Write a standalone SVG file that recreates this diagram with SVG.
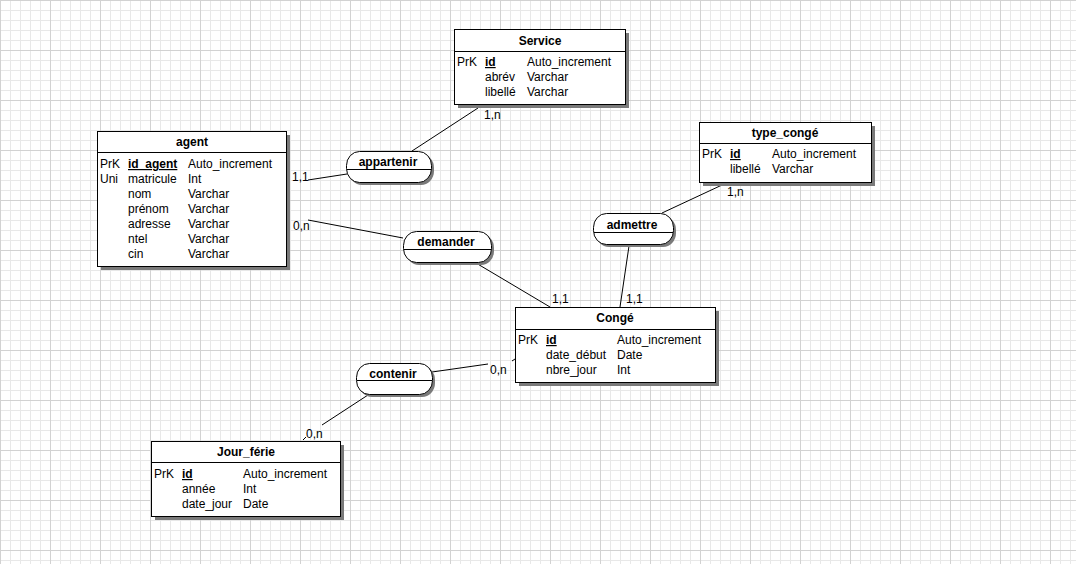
<svg xmlns="http://www.w3.org/2000/svg" width="1076" height="564" viewBox="0 0 1076 564">
<style>
text{font-family:"Liberation Sans",Arial,sans-serif;font-size:12px;fill:#000}
.t{font-weight:bold;text-anchor:middle}
.k{font-weight:bold;text-decoration:underline}
.box{fill:#fff;stroke:#000;stroke-width:1}
.sh{fill:#7a7a7a}
.sep{stroke:#000;stroke-width:1}
.c line{stroke:#000;stroke-width:1}
</style>
<defs>
<pattern id="g10" width="10" height="10" patternUnits="userSpaceOnUse">
<path d="M0.5 0V10M0 0.5H10" stroke="#e8e8e8" stroke-width="1" fill="none"/>
</pattern>
<pattern id="g50" width="50" height="50" patternUnits="userSpaceOnUse">
<rect width="50" height="50" fill="url(#g10)"/>
<path d="M0.5 0V50M0 0.5H50" stroke="#d2d2d2" stroke-width="1" fill="none"/>
</pattern>
</defs>
<rect width="1076" height="564" fill="#fff"/>
<rect width="1076" height="564" fill="url(#g50)"/>

<g id="connectors" class="c">
<line x1="478" y1="108" x2="412" y2="151"/>
<line x1="347" y1="174" x2="308" y2="180"/>
<line x1="288" y1="183" x2="290" y2="182"/>
<line x1="308" y1="220" x2="403" y2="238"/>
<line x1="288" y1="217" x2="290" y2="215"/>
<line x1="476" y1="263" x2="550" y2="307"/>
<line x1="662" y1="213" x2="722" y2="185"/>
<line x1="629" y1="246" x2="620" y2="307"/>
<line x1="432" y1="372" x2="488" y2="364"/>
<line x1="512" y1="361" x2="515" y2="359"/>
<line x1="368" y1="395" x2="322" y2="425"/>
<line x1="303" y1="440" x2="306" y2="437"/>
<text x="484" y="119">1,n</text>
<text x="292" y="181">1,1</text>
<text x="293" y="230">0,n</text>
<text x="552" y="303">1,1</text>
<text x="626" y="303">1,1</text>
<text x="727" y="196">1,n</text>
<text x="490" y="374">0,n</text>
<text x="306" y="438">0,n</text>
</g>

<g id="Service">
<rect class="sh" x="458" y="33" width="171" height="75"/>
<rect class="box" x="454.5" y="29.5" width="171" height="75"/>
<line class="sep" x1="454.5" y1="51.5" x2="625.5" y2="51.5"/>
<text class="t" x="540" y="45">Service</text>
<text x="457" y="66">PrK</text><text class="k" x="485" y="66">id</text><text x="527" y="66">Auto_increment</text>
<text x="485" y="81">abrév</text><text x="527" y="81">Varchar</text>
<text x="485" y="96">libellé</text><text x="527" y="96">Varchar</text>
</g>

<g id="agent">
<rect class="sh" x="101" y="135" width="189" height="135"/>
<rect class="box" x="97.5" y="131.5" width="189" height="135"/>
<line class="sep" x1="97.5" y1="152.5" x2="286.5" y2="152.5"/>
<text class="t" x="192" y="146">agent</text>
<text x="100" y="168">PrK</text><text class="k" x="128" y="168">id_agent</text><text x="188" y="168">Auto_increment</text>
<text x="100" y="183">Uni</text><text x="128" y="183">matricule</text><text x="188" y="183">Int</text>
<text x="128" y="198">nom</text><text x="188" y="198">Varchar</text>
<text x="128" y="213">prénom</text><text x="188" y="213">Varchar</text>
<text x="128" y="228">adresse</text><text x="188" y="228">Varchar</text>
<text x="128" y="243">ntel</text><text x="188" y="243">Varchar</text>
<text x="128" y="258">cin</text><text x="188" y="258">Varchar</text>
</g>

<g id="type_conge">
<rect class="sh" x="703" y="126" width="172" height="60"/>
<rect class="box" x="699.5" y="122.5" width="172" height="60"/>
<line class="sep" x1="699.5" y1="143.5" x2="871.5" y2="143.5"/>
<text class="t" x="785" y="137">type_congé</text>
<text x="702" y="158">PrK</text><text class="k" x="730" y="158">id</text><text x="772" y="158">Auto_increment</text>
<text x="730" y="173">libellé</text><text x="772" y="173">Varchar</text>
</g>

<g id="Conge">
<rect class="sh" x="519" y="311" width="200" height="75"/>
<rect class="box" x="515.5" y="307.5" width="200" height="75"/>
<line class="sep" x1="515.5" y1="329.5" x2="715.5" y2="329.5"/>
<text class="t" x="615" y="322">Congé</text>
<text x="518" y="344">PrK</text><text class="k" x="546" y="344">id</text><text x="617" y="344">Auto_increment</text>
<text x="546" y="359">date_début</text><text x="617" y="359">Date</text>
<text x="546" y="374">nbre_jour</text><text x="617" y="374">Int</text>
</g>

<g id="Jour_ferie">
<rect class="sh" x="155" y="445" width="189" height="75"/>
<rect class="box" x="151.5" y="441.5" width="189" height="75"/>
<line class="sep" x1="151.5" y1="462.5" x2="340.5" y2="462.5"/>
<text class="t" x="246" y="456">Jour_férie</text>
<text x="154" y="478">PrK</text><text class="k" x="182" y="478">id</text><text x="243" y="478">Auto_increment</text>
<text x="182" y="493">année</text><text x="243" y="493">Int</text>
<text x="182" y="508">date_jour</text><text x="243" y="508">Date</text>
</g>

<g id="appartenir">
<rect class="sh" x="349" y="154" width="85" height="31" rx="13" ry="14"/>
<rect class="box" x="346.5" y="151.5" width="85" height="31" rx="13" ry="14"/>
<line class="sep" x1="347" y1="169.5" x2="431" y2="169.5"/>
<text class="t" x="388" y="166">appartenir</text>
</g>

<g id="demander">
<rect class="sh" x="406" y="234" width="88" height="31" rx="13" ry="14"/>
<rect class="box" x="403.5" y="231.5" width="88" height="31" rx="13" ry="14"/>
<line class="sep" x1="404" y1="249.5" x2="491" y2="249.5"/>
<text class="t" x="446" y="246">demander</text>
</g>

<g id="admettre">
<rect class="sh" x="596" y="216" width="80" height="31" rx="13" ry="14"/>
<rect class="box" x="593.5" y="213.5" width="80" height="31" rx="13" ry="14"/>
<line class="sep" x1="594" y1="232.5" x2="673" y2="232.5"/>
<text class="t" x="632" y="229">admettre</text>
</g>

<g id="contenir">
<rect class="sh" x="359" y="366" width="76" height="31" rx="13" ry="14"/>
<rect class="box" x="356.5" y="363.5" width="76" height="31" rx="13" ry="14"/>
<line class="sep" x1="357" y1="380.5" x2="432" y2="380.5"/>
<text class="t" x="393" y="378">contenir</text>
</g>
</svg>
